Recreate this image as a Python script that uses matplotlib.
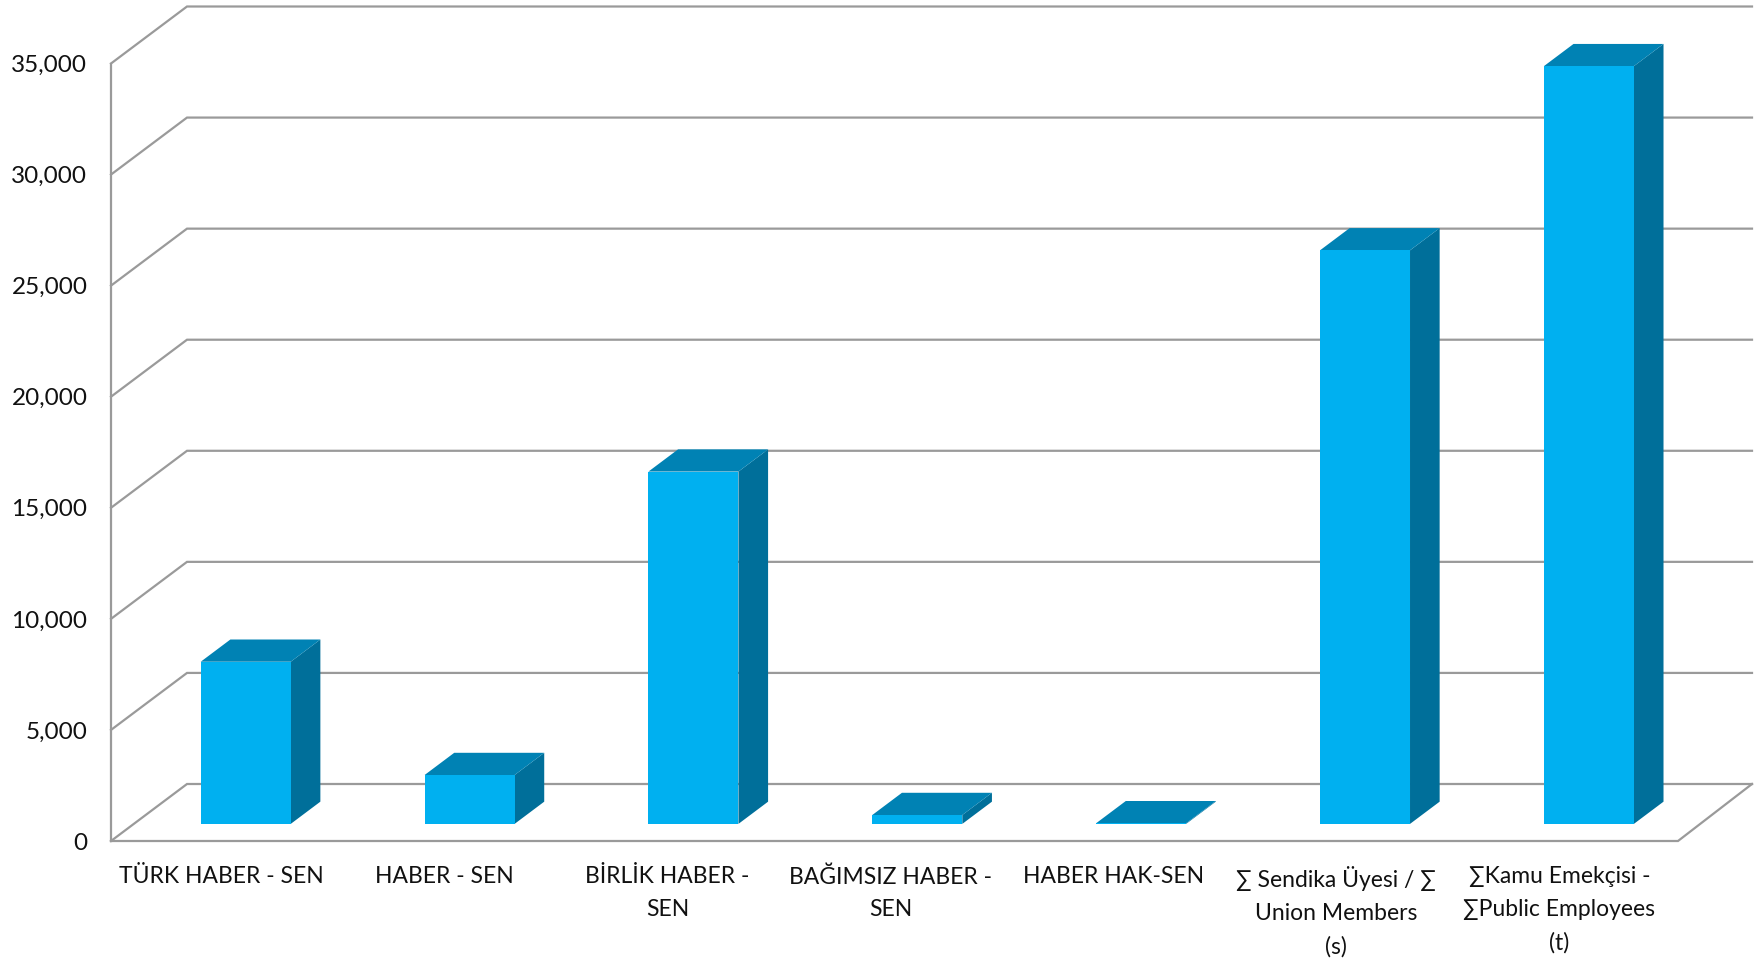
import matplotlib
matplotlib.use("Agg")
import matplotlib.pyplot as plt

plt.rcParams['font.family'] = ['Lato', 'DejaVu Sans']

categories = ["TÜRK HABER - SEN", "HABER - SEN", "BİRLİK HABER -\nSEN",
              "BAĞIMSIZ HABER -\nSEN", "HABER HAK-SEN",
              "∑ Sendika Üyesi / ∑\nUnion Members\n(s)",
              "∑Kamu Emekçisi -\n∑Public Employees\n(t)"]
values = [7300, 2200, 15860, 400, 30, 25820, 34110]
y_ticks = [0, 5000, 10000, 15000, 20000, 25000, 30000, 35000]

W, H = 1758, 958
L, R, B, T = 111, 1678, 841, 63.5
fig = plt.figure(figsize=(W / 100, H / 100), dpi=100, facecolor='white')
ax = fig.add_axes([L / W, 1 - B / H, (R - L) / W, (B - T) / H])
ax.set_xlim(-0.5, 6.5)
ax.set_ylim(0, 35000)

# oblique depth of the chart floor, in data units
UNIT_X = (R - L) / 7
DX = 76 / UNIT_X
DY = 57 / (B - T) * 35000
F0, F1 = 0.30, 0.69     # front and back of the bars within the depth
BAR_W = 90 / UNIT_X

GRID = '#9a9a9a'
LW = 1.6
x0, x1 = -0.5, 6.5
x_end = x1 + DX - 2 / UNIT_X
for v in y_ticks:
    ax.plot([x0, x0 + DX, x_end], [v, v + DY, v + DY], color=GRID, lw=LW,
            clip_on=False, zorder=1, solid_joinstyle='miter')
ax.plot([x0, x1, x_end], [0, 0, DY], color=GRID, lw=LW, clip_on=False, zorder=1,
        solid_joinstyle='miter')
ax.plot([x0, x0], [0, 35000], color=GRID, lw=LW, clip_on=False, zorder=1)

FRONT, TOP, SIDE = '#00B0F0', '#0082B4', '#006F9A'
for i, v in enumerate(values):
    xa = i - BAR_W / 2 + F0 * DX
    xb = i + BAR_W / 2 + F0 * DX
    dx = (F1 - F0) * DX
    y0 = F0 * DY
    d = (F1 - F0) * DY
    ax.fill([xb, xb + dx, xb + dx, xb], [y0, y0 + d, y0 + d + v, y0 + v], color=SIDE,
            lw=0, clip_on=False, zorder=3)
    ax.fill([xa, xb, xb + dx, xa + dx], [y0 + v, y0 + v, y0 + v + d, y0 + v + d], color=TOP,
            lw=0, clip_on=False, zorder=3)
    ax.fill([xa, xb, xb, xa], [y0, y0, y0 + v, y0 + v], color=FRONT,
            lw=0, clip_on=False, zorder=4)

for s in ax.spines.values():
    s.set_visible(False)
ax.patch.set_visible(False)
ax.set_yticks(y_ticks)
ax.set_yticklabels([f"{v:,}" for v in y_ticks], fontsize=17.5, color='#111111')
ax.set_xticks([i * 0.996 - 0.006 for i in range(len(categories))])
ax.set_xticklabels(categories, fontsize=16.5, color='#111111', linespacing=1.7)
ax.tick_params(axis='both', length=0)
ax.tick_params(axis='y', pad=17)
ax.tick_params(axis='x', pad=18)

fig.savefig('out.png', dpi=100, facecolor='white')
